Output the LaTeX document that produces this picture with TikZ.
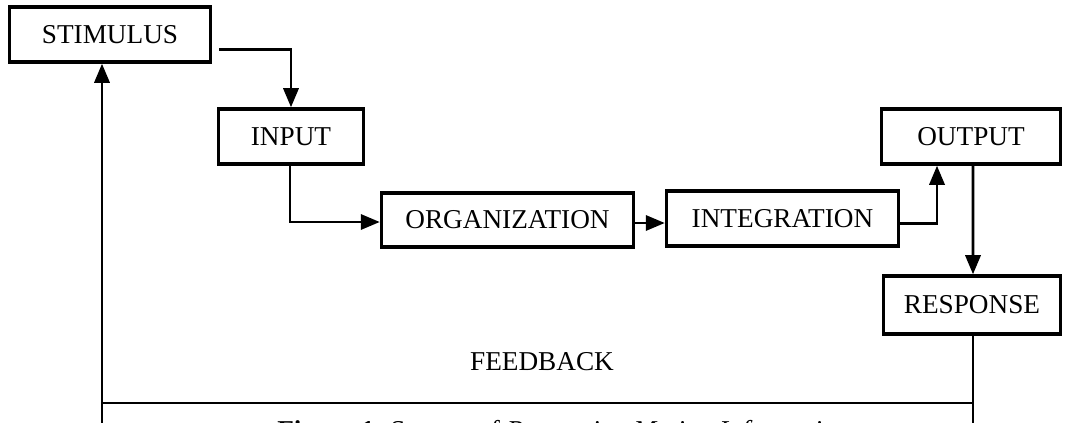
\documentclass[tikz,border=0pt]{standalone}
\usepackage{fontspec}
\setmainfont{Liberation Serif}
\usepackage{tikz}
\usetikzlibrary{arrows}
\tikzset{
    flownode/.style = {
        align=center,
        inner sep=0pt,
        text centered,
        font=\fontsize{15.5}{18}\selectfont,
        rectangle,
        draw=black,
        line width=2.2pt,
        minimum height=1.1cm
    },
    flowline/.style = {
        draw=black,
        line width=1.5pt
    },
    flowarrow/.style = {
        flowline,
        -triangle 45
    }
}
\begin{document}
\begin{tikzpicture}[x=0.02cm, y=-0.02cm]
            \clip (0,0) rectangle (1066,423);
            \useasboundingbox (0,0) rectangle (1066,423);
            \node [flownode, minimum width=4.02cm] (stimulus) at (110,34.5) {STIMULUS};
            \node [flownode, minimum width=2.9cm] (input) at (291,136.5) {INPUT};
            \node [flownode, minimum width=5.04cm, minimum height=1.08cm] (organization) at (507.5,220) {ORGANIZATION};
            \node [flownode, minimum width=4.64cm] (integration) at (782.5,218.5) {INTEGRATION};
            \node [flownode, minimum width=3.58cm] (output) at (971,136.5) {OUTPUT};
            \node [flownode, minimum width=3.54cm, minimum height=1.16cm] (response) at (972,305) {RESPONSE};
            \node [font=\fontsize{15.5}{18}\selectfont, anchor=center] (feedback) at (542,362) {FEEDBACK};
            \node [font=\fontsize{15.5}{18}\selectfont, anchor=base west, inner sep=0pt] (caption) at (277,439)
                {\textbf{Figure 1}. System of \textit{Processing Motion Information}};
            \coordinate (fbleft) at (102,423);
            \coordinate (fbright) at (response.south |- fbleft);
            \draw [flowarrow, shorten <=4pt] ([yshift=-0.3cm]stimulus.east) -| (input.north);
            \draw [flowarrow] ([xshift=-0.02cm]input.south) |- ([yshift=-0.04cm]organization.west);
            \draw [flowarrow] ([yshift=-0.06cm]organization.east) -- ([yshift=-0.06cm]organization.east -| integration.west);
            \draw [flowarrow] ([yshift=-0.1cm]integration.east) -| ([xshift=-0.68cm]output.south);
            \draw [flowarrow] ([xshift=0.04cm]output.south) -- ([xshift=0.02cm]response.north);
            \draw [flowline] ([xshift=0.02cm]response.south) -- ([xshift=0.02cm]fbright);
            \draw [flowline] (fbleft |- 0,403) -- ([xshift=0.02cm]fbright |- 0,403);
            \draw [flowarrow] (fbleft) -- (fbleft |- stimulus.south);
        \end{tikzpicture}
\end{document}
